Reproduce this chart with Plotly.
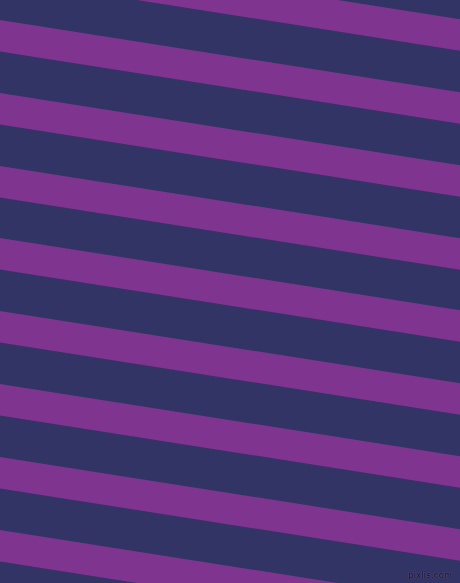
import plotly.graph_objects as go

# stripe edges measured at the left edge (x = 0), in pixels from the top
purple_top = [-53, 20, 93, 166, 238, 311, 384, 457, 530]
purple_bottom = [-21.5, 51.5, 124.5, 197.5, 269.5, 342.5, 415.5, 488.5, 561.5]
drop = 72.2  # how far each edge falls across the width

W = 460
H = 583
navy = "#313465"
purple = "#7f358f"

fig = go.Figure()

for top, bottom in zip(purple_top, purple_bottom):
    fig.add_trace(go.Scatter(
        x=[0, W, W, 0, 0],
        y=[top, top + drop, bottom + drop, bottom, top],
        mode="lines",
        fill="toself",
        fillcolor=purple,
        line=dict(width=0, color=purple),
        hoverinfo="skip",
        showlegend=False,
    ))

fig.add_annotation(
    x=430, y=575, xref="x", yref="y",
    text="<b>pixlis.com</b>",
    showarrow=False,
    font=dict(family="Liberation Sans", size=9, color="#1c1638",
              shadow="0 0 1px #7a7aa8"),
)

fig.update_xaxes(range=[0, W], visible=False, fixedrange=True)
fig.update_yaxes(range=[H, 0], visible=False, fixedrange=True)
fig.update_layout(
    width=W, height=H,
    margin=dict(l=0, r=0, t=0, b=0),
    paper_bgcolor=navy,
    plot_bgcolor=navy,
)

# the page body has a default 8px margin, drop it so the figure sits at 0,0
fig.write_html("out.html", config={"displayModeBar": False},
               post_script="document.body.style.margin='0';")
